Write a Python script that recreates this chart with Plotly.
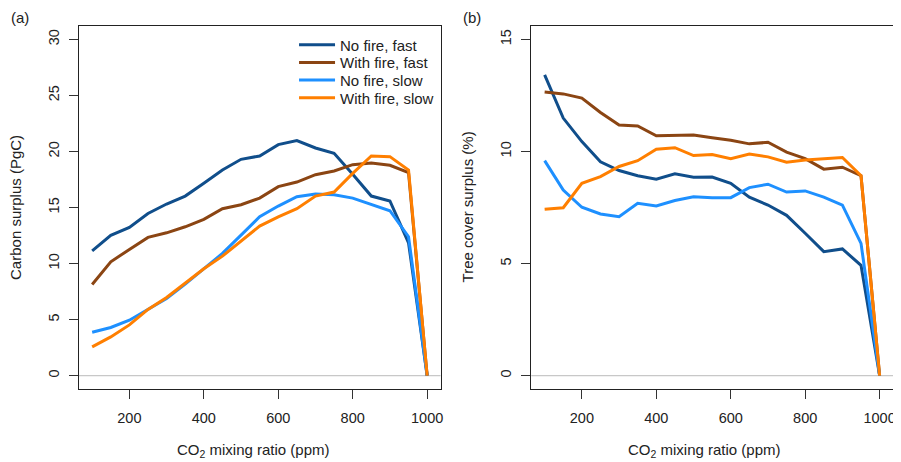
import plotly.graph_objects as go

co2 = [100, 150, 200, 250, 300, 350, 400, 450, 500, 550, 600, 650, 700, 750, 800, 850, 900, 950, 1000]

series_names = ["No fire, fast", "With fire, fast", "No fire, slow", "With fire, slow"]
series_colors = ["#104E8B", "#8B4513", "#1E90FF", "#FF7F00"]

# Panel (a): carbon surplus (PgC)
carbon_nofire_fast = [11.13, 12.51, 13.22, 14.47, 15.31, 16.02, 17.16, 18.35, 19.30, 19.60,
                      20.61, 20.97, 20.31, 19.84, 17.96, 16.02, 15.58, 11.85, 0.0]
carbon_fire_fast = [8.13, 10.15, 11.26, 12.33, 12.74, 13.28, 13.94, 14.89, 15.25, 15.84,
                    16.86, 17.27, 17.93, 18.26, 18.82, 18.97, 18.77, 18.11, 0.0]
carbon_nofire_slow = [3.87, 4.29, 4.94, 5.90, 6.88, 8.16, 9.53, 10.90, 12.54, 14.17,
                      15.13, 15.96, 16.20, 16.14, 15.84, 15.31, 14.71, 12.39, 0.0]
carbon_fire_slow = [2.56, 3.45, 4.52, 5.90, 6.97, 8.22, 9.53, 10.66, 11.97, 13.34,
                    14.17, 14.89, 16.02, 16.38, 18.05, 19.60, 19.54, 18.35, 0.0]

# Panel (b): tree cover surplus (%)
tree_nofire_fast = [13.42, 11.49, 10.44, 9.54, 9.15, 8.92, 8.76, 9.00, 8.85, 8.86,
                    8.58, 7.96, 7.61, 7.15, 6.35, 5.53, 5.65, 4.92, 0.0]
tree_fire_fast = [12.65, 12.57, 12.38, 11.74, 11.18, 11.14, 10.70, 10.73, 10.73, 10.61,
                  10.50, 10.34, 10.41, 9.97, 9.68, 9.21, 9.30, 8.92, 0.0]
tree_nofire_slow = [9.59, 8.28, 7.51, 7.21, 7.09, 7.69, 7.57, 7.81, 7.98, 7.93,
                    7.94, 8.39, 8.54, 8.19, 8.24, 7.96, 7.61, 5.90, 0.0]
tree_fire_slow = [7.42, 7.49, 8.58, 8.88, 9.33, 9.59, 10.10, 10.17, 9.82, 9.86,
                  9.68, 9.89, 9.76, 9.52, 9.62, 9.68, 9.73, 8.92, 0.0]

carbon = [carbon_nofire_fast, carbon_fire_fast, carbon_nofire_slow, carbon_fire_slow]
tree = [tree_nofire_fast, tree_fire_fast, tree_nofire_slow, tree_fire_slow]

x_ticks = [200, 400, 600, 800, 1000]
y_ticks_a = [0, 5, 10, 15, 20, 25, 30]
y_ticks_b = [0, 5, 10, 15]

# page body has an 8px margin: work in page pixels and convert
OFF = 8
W, H = 901 - OFF, 462 - OFF
FONT = "Liberation Sans, Arial, Helvetica, sans-serif"


def px(x):
    return (x - OFF) / W


def py(y):
    return 1 - (y - OFF) / H


legend_ids = ["legend", "legend2", "legend3", "legend4"]
legend_rows = [45, 62.7, 80.3, 98]

fig = go.Figure()

for name, color, ya, lid in zip(series_names, series_colors, carbon, legend_ids):
    fig.add_trace(go.Scatter(x=co2, y=ya, mode="lines", name=name,
                             line=dict(color=color, width=3),
                             xaxis="x", yaxis="y", showlegend=True, legend=lid))
for name, color, yb in zip(series_names, series_colors, tree):
    fig.add_trace(go.Scatter(x=co2, y=yb, mode="lines", name=name,
                             line=dict(color=color, width=3),
                             xaxis="x2", yaxis="y2", showlegend=False))

# reference lines at zero
for xr, yr in [("x domain", "y"), ("x2 domain", "y2")]:
    fig.add_shape(type="line", xref=xr, yref=yr, x0=0, x1=1, y0=0, y1=0,
                  line=dict(color="#C8C8C8", width=1.2), layer="below")

y_bot, y_top = py(389), py(26)

common_x = dict(range=[64, 1036], tickvals=x_ticks, ticks="outside", ticklen=9,
                tickcolor="#333333", tickwidth=1, showline=True, mirror=True,
                linecolor="#222222", linewidth=1.2, showgrid=False, zeroline=False,
                tickfont=dict(size=14.5, color="#222222", family=FONT),
                ticklabelstandoff=6)
common_y = dict(ticks="outside", ticklen=9, tickcolor="#333333", tickwidth=1,
                showline=True, mirror=True, linecolor="#222222", linewidth=1.2,
                showgrid=False, zeroline=False, tickangle=-90,
                tickfont=dict(size=14.5, color="#222222", family=FONT),
                ticklabelstandoff=4)

legend_common = dict(xanchor="left", yanchor="middle", bgcolor="rgba(0,0,0,0)",
                     font=dict(size=15, family=FONT, color="#222222"),
                     itemwidth=36, borderwidth=0)
legends = {}
for lid, row in zip(legend_ids, legend_rows):
    legends[lid] = dict(x=px(295), y=py(row), **legend_common)

fig.update_layout(
    width=W, height=H,
    margin=dict(l=0, r=0, t=0, b=0),
    paper_bgcolor="white", plot_bgcolor="white",
    font=dict(family=FONT, size=15, color="#222222"),
    xaxis=dict(domain=[px(79), px(442)], anchor="y", **common_x),
    yaxis=dict(domain=[y_bot, y_top], anchor="x", range=[-1.2, 31.2],
               tickvals=y_ticks_a, **common_y),
    xaxis2=dict(domain=[px(533), px(896)], anchor="y2", **common_x),
    yaxis2=dict(domain=[y_bot, y_top], anchor="x2", range=[-0.6, 15.6],
                tickvals=y_ticks_b, **common_y),
    showlegend=True,
    **legends,
)

annots = [
    dict(text="(a)", x=px(20), y=py(18)),
    dict(text="(b)", x=px(474), y=py(18)),
    dict(text="CO<sub>2</sub> mixing ratio (ppm)", x=px(254), y=py(450)),
    dict(text="CO<sub>2</sub> mixing ratio (ppm)", x=px(707), y=py(450)),
    dict(text="Carbon surplus (PgC)", x=px(16), y=py(207), textangle=-90),
    dict(text="Tree cover surplus (%)", x=px(470), y=py(207), textangle=-90),
]
for a in annots:
    fig.add_annotation(xref="paper", yref="paper", showarrow=False,
                       xanchor="center", yanchor="middle",
                       font=dict(size=15, family=FONT, color="#222222"), **a)

fig.write_html("out.html")
